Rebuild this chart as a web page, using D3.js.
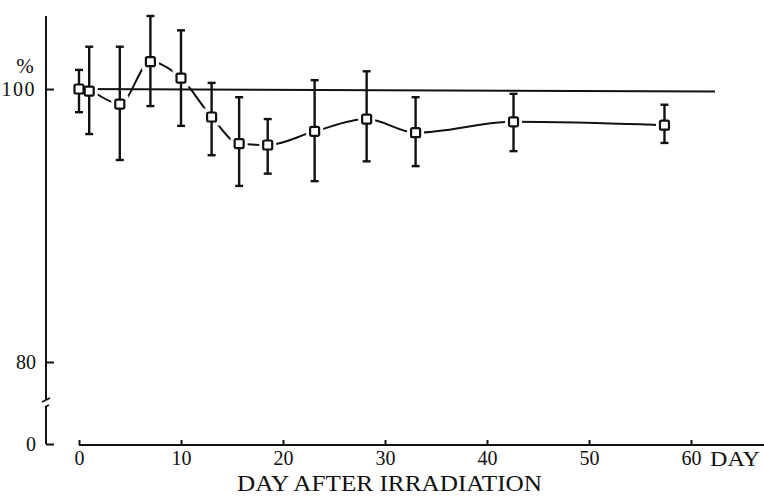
<!DOCTYPE html>
<html>
<head>
<meta charset="utf-8">
<script src="https://cdn.jsdelivr.net/npm/d3@7"></script>
<style>
  html, body { margin: 0; padding: 0; background: #fff; }
  svg { display: block; }
  text { font-family: "Liberation Serif", "DejaVu Serif", serif; fill: #111; }
</style>
</head>
<body>
<svg id="chart" width="764" height="500"></svg>
<script>
// ---- data ----
const days  = [0, 1, 4, 7, 10, 13, 15.7, 18.5, 23.1, 28.2, 33.0, 42.6, 57.4];
const means = [100.0, 99.85, 98.9, 102.0, 100.8, 97.95, 96.0, 95.9, 96.9, 97.8, 96.8, 97.6, 97.35];
const upper = [101.4, 103.1, 103.1, 105.35, 104.3, 100.45, 99.4, 97.8, 100.65, 101.3, 99.4, 99.65, 98.85];
const lower = [98.3, 96.7, 94.8, 98.75, 97.3, 95.15, 92.9, 93.8, 93.25, 94.7, 94.35, 95.45, 96.05];
const xTicks = [0, 10, 20, 30, 40, 50, 60];
const yTicks = [0, 80, 100];
const refValue = 100;
const refEndDay = 62.35;
const xTitle = "DAY AFTER IRRADIATION";
const xUnit = "DAY";
const yUnit = "%";

const points = days.map((d, i) => ({ day: d, mean: means[i], hi: upper[i], lo: lower[i] }));

const svg = d3.select("#chart");
const ink = "#111";

const x = d3.scaleLinear().domain([0, 60]).range([79, 691]);
// broken y axis: 0 sits just below the 80..105 range
const y = d3.scaleLinear().domain([0, 80, 105.35]).range([444, 362, 16]);

const axisX = 46;

// ---- y axis (broken) ----
const gy = svg.append("g").attr("transform", `translate(${axisX},0)`)
  .call(d3.axisLeft(y).tickValues(yTicks).tickSize(-8).tickPadding(10).tickFormat(d3.format("d")));
gy.select(".domain").remove();
gy.selectAll(".tick line").attr("stroke", ink).attr("stroke-width", 2);
gy.selectAll(".tick text").attr("font-size", 20).attr("fill", ink)
  .attr("font-family", '"Liberation Serif", serif')
  .attr("letter-spacing", d => d === 100 ? 1.5 : 0);

const breakTop = 400, breakBot = 406;
svg.append("line").attr("x1", axisX).attr("x2", axisX).attr("y1", y.range()[2]).attr("y2", breakTop)
  .attr("stroke", ink).attr("stroke-width", 2);
svg.append("line").attr("x1", axisX).attr("x2", axisX).attr("y1", breakBot).attr("y2", y(0))
  .attr("stroke", ink).attr("stroke-width", 2);
svg.append("line").attr("x1", axisX - 4).attr("y1", breakTop + 2).attr("x2", axisX + 4).attr("y2", breakTop - 2)
  .attr("stroke", ink).attr("stroke-width", 1.6);
svg.append("line").attr("x1", axisX - 1).attr("y1", breakBot + 1).attr("x2", axisX + 3).attr("y2", breakBot - 1)
  .attr("stroke", ink).attr("stroke-width", 1.6);

svg.append("text").attr("x", 25).attr("y", 73).attr("text-anchor", "middle")
  .attr("font-size", 21).text(yUnit);

// ---- x axis ----
const gx = svg.append("g").attr("transform", `translate(0,${y(0) + 1})`)
  .call(d3.axisBottom(x).tickValues(xTicks).tickSize(-5).tickPadding(6).tickFormat(d3.format("d")));
gx.select(".domain").remove();
gx.selectAll(".tick line").attr("stroke", ink).attr("stroke-width", 2);
gx.selectAll(".tick text").attr("font-size", 20).attr("fill", ink)
  .attr("font-family", '"Liberation Serif", serif');
gx.append("line").attr("x1", x(0)).attr("x2", 764).attr("y1", 0).attr("y2", 0)
  .attr("stroke", ink).attr("stroke-width", 2);

svg.append("text").attr("x", 710).attr("y", 466).attr("font-size", 22)
  .attr("textLength", 50).attr("lengthAdjust", "spacingAndGlyphs").text(xUnit);
svg.append("text").attr("x", 237).attr("y", 491).attr("font-size", 23)
  .attr("textLength", 305).attr("lengthAdjust", "spacingAndGlyphs").text(xTitle);

// ---- reference line at 100 % ----
svg.append("line").attr("x1", x(0)).attr("x2", x(refEndDay))
  .attr("y1", y(refValue)).attr("y2", y(refValue) + 2.5)
  .attr("stroke", ink).attr("stroke-width", 2);

// ---- smooth curve ----
const line = d3.line().x(d => x(d.day)).y(d => y(d.mean)).curve(d3.curveMonotoneX);
svg.append("path").datum(points).attr("d", line)
  .attr("fill", "none").attr("stroke", ink).attr("stroke-width", 2);

// white gaps around markers
const gap = 17;
svg.append("g").selectAll("rect").data(points).join("rect")
  .attr("x", d => x(d.day) - gap / 2).attr("y", d => y(d.mean) - gap / 2)
  .attr("width", gap).attr("height", gap).attr("fill", "#fff");

// ---- error bars ----
const eb = svg.append("g").attr("stroke", ink).attr("stroke-width", 2.4);
const cap = 4;
eb.selectAll(".v").data(points).join("line")
  .attr("x1", d => x(d.day)).attr("x2", d => x(d.day))
  .attr("y1", d => y(d.hi)).attr("y2", d => y(d.lo));
eb.selectAll(".t").data(points).join("line")
  .attr("x1", d => x(d.day) - cap).attr("x2", d => x(d.day) + cap)
  .attr("y1", d => y(d.hi)).attr("y2", d => y(d.hi));
eb.selectAll(".b").data(points).join("line")
  .attr("x1", d => x(d.day) - cap).attr("x2", d => x(d.day) + cap)
  .attr("y1", d => y(d.lo)).attr("y2", d => y(d.lo));

// ---- markers ----
const ms = 9;
svg.append("g").selectAll("rect").data(points).join("rect")
  .attr("x", d => x(d.day) - ms / 2).attr("y", d => y(d.mean) - ms / 2)
  .attr("width", ms).attr("height", ms).attr("rx", 1.5)
  .attr("fill", "#fff").attr("stroke", ink).attr("stroke-width", 2.2);
</script>
</body>
</html>
